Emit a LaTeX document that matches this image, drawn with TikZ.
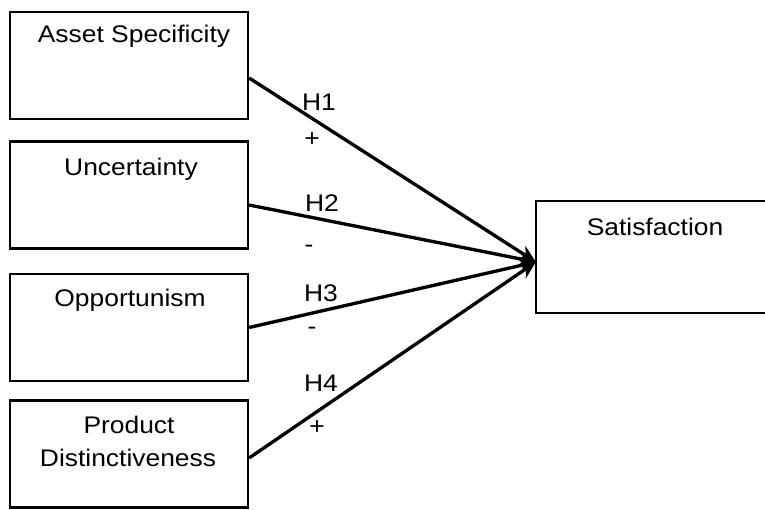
\documentclass[tikz,border=0pt]{standalone}
\usepackage{fontspec}
\setmainfont{Liberation Sans}[FakeStretch=1.1]
\usetikzlibrary{arrows.meta}

\begin{document}
\begin{tikzpicture}[
    font=\fontsize{13.66pt}{16.4pt}\selectfont,
    edge/.style={line width=1.3pt},
    box/.style={draw, edge, inner sep=0pt, minimum width=4.76cm, minimum height=2.14cm},
    link/.style={line width=1.9pt, -{Stealth[length=10pt, width=9pt]}}
]
    \useasboundingbox (0, 0) rectangle (15.3, 10.18);
    \clip (0, 0) rectangle (15.3, 10.18);

    \node[box] (asset) at(2.58, 8.87) {};
    \node[box] (uncert) at(2.58, 6.28) {};
    \node[box] (opport) at(2.58, 3.63) {};
    \node[box] (product) at(2.58, 1.10) {};
    % open on the right: it runs past the edge of the page
    \node[box, draw=none, minimum width=4.6cm, minimum height=2.2cm] (satis) at(13.04, 5.04) {};
    \draw[edge] (satis.north east) -- (satis.north west) -- (satis.south west) -- (satis.south east);

    \node[anchor=base] (assetT) at(2.68, 9.34) {Asset Specificity};
    \node[anchor=base] (uncertT) at(2.62, 6.68) {Uncertainty};
    \node[anchor=base] (opportT) at(2.60, 4.05) {Opportunism};
    \node[anchor=base] (productT) at(2.58, 1.52) {Product};
    \node[anchor=base] (distT) at(2.56, 0.85) {Distinctiveness};
    \node[anchor=base] (satisT) at(13.10, 5.48) {Satisfaction};

    \draw[link] ([yshift=-0.25cm]asset.east) -- ([yshift=-0.1cm]satis.west);
    \draw[link] ([yshift=-0.2cm]uncert.east) -- ([yshift=-0.1cm]satis.west);
    \draw[link] (opport.east) -- ([yshift=-0.1cm]satis.west);
    \draw[link] ([yshift=-0.08cm]product.east) -- ([yshift=-0.1cm]satis.west);

    \node[] (h1) at(6.38, 8.14) {H1};
    \node[] (s1) at(6.24, 7.38) {+};
    \node[] (h2) at(6.44, 6.12) {H2};
    \node[] (s2) at(6.18, 5.20) {-};
    \node[] (h3) at(6.42, 4.32) {H3};
    \node[] (s3) at(6.24, 3.56) {-};
    \node[] (h4) at(6.42, 2.52) {H4};
    \node[] (s4) at(6.34, 1.62) {+};
\end{tikzpicture}
\end{document}
